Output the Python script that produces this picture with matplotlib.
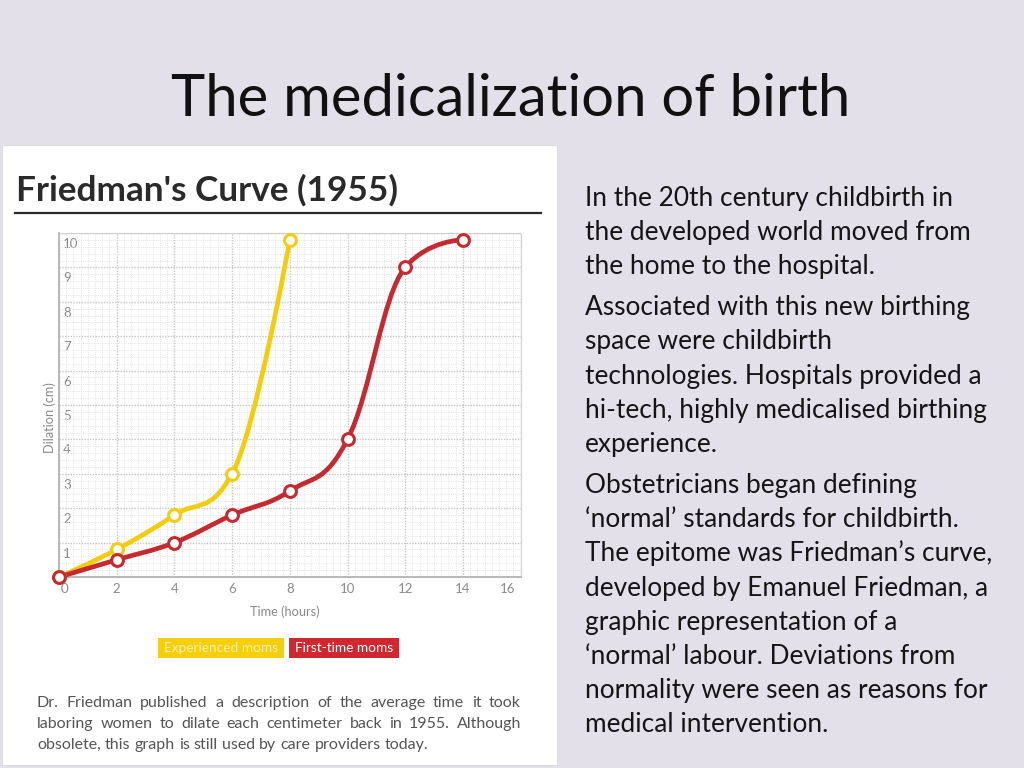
import numpy as np
import matplotlib
matplotlib.use("Agg")
import matplotlib.pyplot as plt
from matplotlib.path import Path
from matplotlib.patches import PathPatch, Rectangle
from matplotlib.ticker import MultipleLocator
import matplotlib.transforms as mtransforms

# ---------------- data ----------------
exp_hours = [0, 2, 4, 6, 8]
exp_dilation = [0, 0.8, 1.8, 3.0, 9.8]
first_hours = [0, 2, 4, 6, 8, 10, 12, 14]
first_dilation = [0, 0.5, 1.0, 1.8, 2.5, 4.0, 9.0, 9.8]
x_ticks = [0, 2, 4, 6, 8, 10, 12, 14, 16]
y_ticks = [1, 2, 3, 4, 5, 6, 7, 8, 9, 10]
legend_labels = ["Experienced moms", "First-time moms"]

slide_title = "The medicalization of birth"
chart_title = "Friedman's Curve (1955)"
caption_lines = [
    "Dr. Friedman published a description of the average time it took",
    "laboring women to dilate each centimeter back in 1955. Although",
    "obsolete, this graph is still used by care providers today.",
]
paragraphs = [
    ["In the 20th century childbirth in",
     "the developed world moved from",
     "the home to the hospital."],
    ["Associated with this new birthing",
     "space were childbirth",
     "technologies. Hospitals provided a",
     "hi-tech, highly medicalised birthing",
     "experience."],
    ["Obstetricians began defining",
     "\u2018normal\u2019 standards for childbirth.",
     "The epitome was Friedman\u2019s curve,",
     "developed by Emanuel Friedman, a",
     "graphic representation of a",
     "\u2018normal\u2019 labour. Deviations from",
     "normality were seen as reasons for",
     "medical intervention."],
]

YELLOW = "#F3CD0C"
RED = "#C42A30"
BG = "#E4E0EA"

W, H = 1024, 768
fig = plt.figure(figsize=(W / 100, H / 100), dpi=100)
fig.patch.set_facecolor(BG)


def fx(x):
    return x / W


def fy(y):
    return 1 - y / H


# white panel
fig.patches.append(Rectangle((fx(2), fy(765)), fx(557) - fx(2), fy(145) - fy(765),
                             transform=fig.transFigure, facecolor="white",
                             edgecolor="#d8d8d8", linewidth=0.6, zorder=-5))

# slide title
fig.text(fx(511), fy(116), slide_title, ha="center", va="baseline",
         fontsize=41.8, family="Lato", color="#111111")

# chart title + rule
fig.text(fx(16), fy(201), chart_title, ha="left", va="baseline",
         fontsize=25.3, family="Lato", fontweight="bold", color="#2a2a2a")
fig.add_artist(plt.Line2D([fx(15), fx(541)], [fy(213), fy(213)],
                          transform=fig.transFigure, color="#2a2a2a", linewidth=1.6))

# ---------------- axes ----------------
x0, x1, ytop, ybot = 59, 520.6, 233, 577
ax = fig.add_axes([fx(x0), fy(ybot), fx(x1) - fx(x0), fy(ytop) - fy(ybot)])
ax.set_zorder(2)
ax.set_xlim(0, 16)
ax.set_ylim(0, 10)
ax.set_facecolor("white")
ax.xaxis.set_major_locator(MultipleLocator(2))
ax.yaxis.set_major_locator(MultipleLocator(1))
ax.xaxis.set_minor_locator(MultipleLocator(0.25))
ax.yaxis.set_minor_locator(MultipleLocator(0.2))
ax.grid(which="minor", color="#e4e4e4", linestyle=(0, (1, 1.2)), linewidth=0.7)
ax.grid(which="major", color="#c4c4c4", linestyle=(0, (1, 1)), linewidth=1.0)
ax.set_axisbelow(True)
for s in ["top", "right"]:
    ax.spines[s].set_color("#d0d0d0")
    ax.spines[s].set_linestyle((0, (1, 1)))
    ax.spines[s].set_linewidth(0.8)
for s in ["left", "bottom"]:
    ax.spines[s].set_color("#b8b8b8")
    ax.spines[s].set_linewidth(1.4)

ax.set_xticks(x_ticks)
ax.set_xticklabels([str(t) for t in x_ticks])
ax.set_yticks(y_ticks)
ax.set_yticklabels([str(t) for t in y_ticks])
ax.tick_params(axis="x", which="both", length=0, pad=4.0, labelsize=9.5,
               labelcolor="#8a8a8a")
ax.tick_params(axis="y", which="both", length=0, pad=-3, labelsize=9.5,
               labelcolor="#8a8a8a")
for lbl in ax.get_xticklabels():
    lbl.set_family("Lato")
xl = ax.get_xticklabels()
xl[0].set_ha("left")
xl[0].set_transform(xl[0].get_transform() +
                    mtransforms.ScaledTranslation(2 / 100, 0, fig.dpi_scale_trans))
xl[-1].set_ha("right")
xl[-1].set_transform(xl[-1].get_transform() +
                     mtransforms.ScaledTranslation(-5 / 100, 0, fig.dpi_scale_trans))
for lbl in ax.get_yticklabels():
    lbl.set_family("Lato")
    lbl.set_ha("left")
    lbl.set_va("top")
    lbl.set_transform(lbl.get_transform() +
                      mtransforms.ScaledTranslation(0, -5 / 100, fig.dpi_scale_trans))


def spline_path(xs, ys, smoothing=1.5):
    """Highcharts-style smooth spline through the data points."""
    n = len(xs)
    denom = smoothing + 1
    lc = [None] * n
    rc = [None] * n
    for i in range(1, n - 1):
        px, py = xs[i], ys[i]
        lx, ly = xs[i - 1], ys[i - 1]
        nx, ny = xs[i + 1], ys[i + 1]
        lcx = (smoothing * px + lx) / denom
        lcy = (smoothing * py + ly) / denom
        rcx = (smoothing * px + nx) / denom
        rcy = (smoothing * py + ny) / denom
        corr = ((rcy - lcy) * (rcx - px)) / (rcx - lcx) + py - rcy
        lcy += corr
        rcy += corr
        if lcy > ly and lcy > py:
            lcy = max(ly, py)
            rcy = 2 * py - lcy
        elif lcy < ly and lcy < py:
            lcy = min(ly, py)
            rcy = 2 * py - lcy
        if rcy > ny and rcy > py:
            rcy = max(ny, py)
            lcy = 2 * py - rcy
        elif rcy < ny and rcy < py:
            rcy = min(ny, py)
            lcy = 2 * py - rcy
        lc[i] = (lcx, lcy)
        rc[i] = (rcx, rcy)
    verts = [(xs[0], ys[0])]
    codes = [Path.MOVETO]
    for i in range(1, n):
        c1 = rc[i - 1] if rc[i - 1] is not None else (xs[i - 1], ys[i - 1])
        c2 = lc[i] if lc[i] is not None else (xs[i], ys[i])
        verts += [c1, c2, (xs[i], ys[i])]
        codes += [Path.CURVE4] * 3
    return Path(verts, codes)


for xs, ys, col in [(exp_hours, exp_dilation, YELLOW),
                    (first_hours, first_dilation, RED)]:
    ax.add_patch(PathPatch(spline_path(xs, ys), facecolor="none", edgecolor=col,
                           linewidth=3.4, capstyle="round", joinstyle="round",
                           zorder=3, clip_on=False))
    ax.plot(xs, ys, linestyle="none", marker="o", markersize=8.5,
            markerfacecolor="white", markeredgecolor=col, markeredgewidth=2.2,
            zorder=4, clip_on=False)

# axis titles
fig.text(fx(50), fy(418), "Dilation (cm)", rotation=90, ha="center", va="center",
         fontsize=9.2, family="Lato", color="#8a8a8a")
fig.text(fx(285), fy(612), "Time (hours)", ha="center", va="center",
         fontsize=9.2, family="Lato", color="#8a8a8a")

# legend boxes
for (bx0, bx1, col, tcol), lab in zip(
        [(158, 284, "#F5CE0C", "#FFF2A8"), (289, 399, "#D1272E", "#FFFFFF")],
        legend_labels):
    fig.patches.append(Rectangle((fx(bx0), fy(658)), fx(bx1) - fx(bx0), fy(638) - fy(658),
                                 transform=fig.transFigure, facecolor=col,
                                 edgecolor="none", zorder=2))
    fig.text(fx((bx0 + bx1) / 2), fy(648.5), lab, ha="center", va="center",
             fontsize=9.8, family="Lato", color=tcol, zorder=3)

# caption, justified
renderer = fig.canvas.get_renderer()


def justified(line, xa, xb, ybase, justify=True, **kw):
    words = line.split(" ")
    objs = [fig.text(fx(xa), fy(ybase), w, ha="left", va="baseline", **kw) for w in words]
    widths = [o.get_window_extent(renderer).width for o in objs]
    space = fig.text(0, 0, "a a", **kw)
    sw = space.get_window_extent(renderer).width
    a = fig.text(0, 0, "aa", **kw)
    sw -= a.get_window_extent(renderer).width
    space.remove()
    a.remove()
    if justify and len(words) > 1:
        gap = (xb - xa - sum(widths)) / (len(words) - 1)
    else:
        gap = sw
    x = xa
    for o, w in zip(objs, widths):
        o.set_x(fx(x))
        x += w + gap


cap_kw = dict(fontsize=11.5, family="Lato", color="#555555")
for i, line in enumerate(caption_lines):
    justified(line, 37, 521, 707 + i * 21, justify=(i < len(caption_lines) - 1), **cap_kw)

# right-hand text
body_kw = dict(fontsize=18.9, family="Lato", color="#151515")
centers = [[197, 231, 265], [306, 340, 375, 409, 443],
           [484, 518, 552, 587, 621, 655, 689, 723]]
for para, cs in zip(paragraphs, centers):
    for line, c in zip(para, cs):
        fig.text(fx(585), fy(c + 9), line, ha="left", va="baseline", **body_kw)

fig.savefig("out.png", dpi=100, facecolor=BG)
